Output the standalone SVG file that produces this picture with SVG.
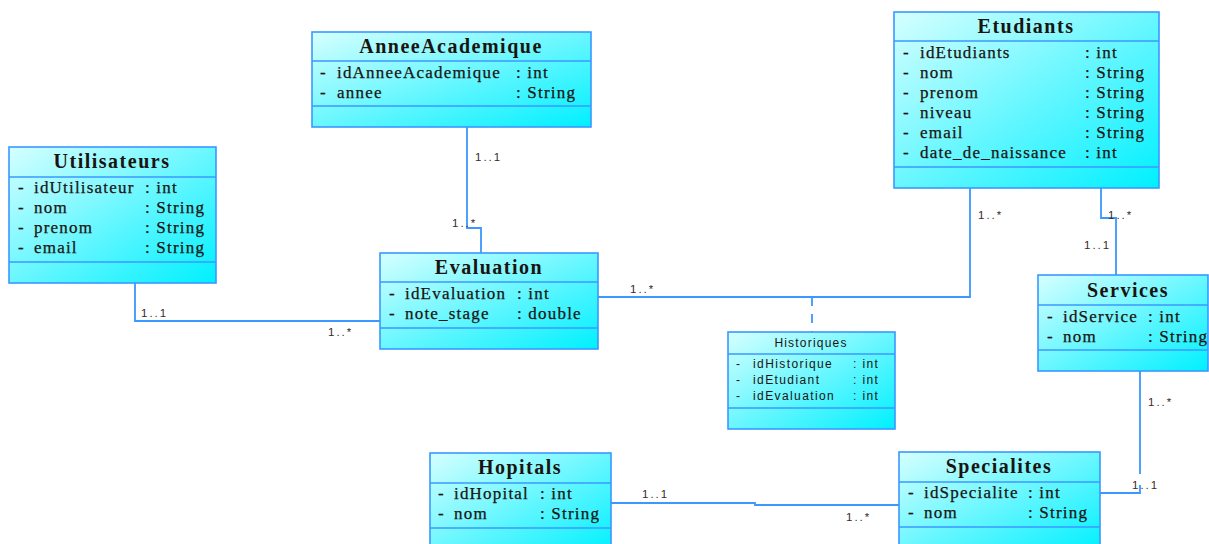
<svg xmlns="http://www.w3.org/2000/svg" width="1209" height="544" viewBox="0 0 1209 544">
  <defs>
    <linearGradient id="boxFill" x1="0" y1="0" x2="1" y2="1">
      <stop offset="0" stop-color="#d6ffff"/>
      <stop offset="0.55" stop-color="#5ff6ff"/>
      <stop offset="1" stop-color="#00f0ff"/>
    </linearGradient>
    <style>
      .box { fill: url(#boxFill); stroke: #3a98ff; stroke-width: 1.6; }
      .sep { stroke: #3a98ff; stroke-width: 1.6; }
      .title { font-family: "Liberation Serif", serif; font-weight: bold; font-size: 20px; letter-spacing: 1.5px; fill: #1a1410; text-anchor: middle; }
      .attr { font-family: "Liberation Serif", serif; font-size: 17px; letter-spacing: 1.2px; fill: #1a1410; stroke: #1a1410; stroke-width: 0.25; }
      .stitle { font-family: "Liberation Sans", Arial, sans-serif; font-size: 12px; letter-spacing: 1.2px; fill: #1a1410; text-anchor: middle; }
      .sattr { font-family: "Liberation Sans", Arial, sans-serif; font-size: 12px; letter-spacing: 1.4px; fill: #1a1410; }
      .conn { fill: none; stroke: #3a98ff; stroke-width: 1.8; }
      .dash { stroke-dasharray: 9 8; }
      .mult { font-family: "Liberation Sans", Arial, sans-serif; font-size: 11.5px; letter-spacing: 2px; fill: #3a2a2a; }
    </style>
  </defs>
  <rect width="1209" height="544" fill="#ffffff"/>

  <!-- associations -->
  <g id="connectors">
    <path class="conn" d="M467,127 V228 H481 V253"/>
    <path class="conn" d="M135,283 V321 H380"/>
    <path class="conn" d="M598,297 H970 V188"/>
    <path class="conn dash" d="M812,297 V332"/>
    <path class="conn" d="M1101,188 V218 H1116 V275"/>
    <path class="conn" d="M1140,371 V474"/>
    <path class="conn" d="M1140,485 V493 H1100"/>
    <path class="conn" d="M611,503 H755 V505 H899"/>
    <text class="mult" x="475" y="161">1..1</text>
    <text class="mult" x="452" y="227">1..*</text>
    <text class="mult" x="141" y="317">1..1</text>
    <text class="mult" x="328" y="336">1..*</text>
    <text class="mult" x="630" y="293">1..*</text>
    <text class="mult" x="978" y="219">1..*</text>
    <text class="mult" x="1108" y="219">1..*</text>
    <text class="mult" x="1084" y="249">1..1</text>
    <text class="mult" x="1148" y="406">1..*</text>
    <text class="mult" x="1132" y="489">1..1</text>
    <text class="mult" x="642" y="498">1..1</text>
    <text class="mult" x="846" y="521">1..*</text>
  </g>

  <g id="AnneeAcademique">
    <rect class="box" x="312" y="32" width="279" height="95"/>
    <line class="sep" x1="312" y1="61" x2="591" y2="61"/>
    <line class="sep" x1="312" y1="106" x2="591" y2="106"/>
    <text class="title" x="451" y="53">AnneeAcademique</text>
    <text class="attr" x="320" y="78">-</text><text class="attr" x="337" y="78">idAnneeAcademique</text><text class="attr" x="516" y="78">: int</text>
    <text class="attr" x="320" y="98">-</text><text class="attr" x="337" y="98">annee</text><text class="attr" x="516" y="98">: String</text>
  </g>

  <g id="Utilisateurs">
    <rect class="box" x="9" y="147" width="207" height="136"/>
    <line class="sep" x1="9" y1="177" x2="216" y2="177"/>
    <line class="sep" x1="9" y1="262" x2="216" y2="262"/>
    <text class="title" x="112" y="168">Utilisateurs</text>
    <text class="attr" x="18" y="193">-</text><text class="attr" x="34" y="193">idUtilisateur</text><text class="attr" x="145" y="193">: int</text>
    <text class="attr" x="18" y="213">-</text><text class="attr" x="34" y="213">nom</text><text class="attr" x="145" y="213">: String</text>
    <text class="attr" x="18" y="233">-</text><text class="attr" x="34" y="233">prenom</text><text class="attr" x="145" y="233">: String</text>
    <text class="attr" x="18" y="253">-</text><text class="attr" x="34" y="253">email</text><text class="attr" x="145" y="253">: String</text>
  </g>

  <g id="Evaluation">
    <rect class="box" x="380" y="253" width="218" height="96"/>
    <line class="sep" x1="380" y1="282" x2="598" y2="282"/>
    <line class="sep" x1="380" y1="328" x2="598" y2="328"/>
    <text class="title" x="489" y="274">Evaluation</text>
    <text class="attr" x="389" y="299">-</text><text class="attr" x="405" y="299">idEvaluation</text><text class="attr" x="517" y="299">: int</text>
    <text class="attr" x="389" y="319">-</text><text class="attr" x="405" y="319">note_stage</text><text class="attr" x="517" y="319">: double</text>
  </g>

  <g id="Historiques">
    <rect class="box" x="728" y="332" width="167" height="97"/>
    <line class="sep" x1="728" y1="354" x2="895" y2="354"/>
    <line class="sep" x1="728" y1="408" x2="895" y2="408"/>
    <text class="stitle" x="811" y="347">Historiques</text>
    <text class="sattr" x="736" y="368">-</text><text class="sattr" x="753" y="368">idHistorique</text><text class="sattr" x="853" y="368">: int</text>
    <text class="sattr" x="736" y="384">-</text><text class="sattr" x="753" y="384">idEtudiant</text><text class="sattr" x="853" y="384">: int</text>
    <text class="sattr" x="736" y="400">-</text><text class="sattr" x="753" y="400">idEvaluation</text><text class="sattr" x="853" y="400">: int</text>
  </g>

  <g id="Etudiants">
    <rect class="box" x="894" y="12" width="265" height="176"/>
    <line class="sep" x1="894" y1="41" x2="1159" y2="41"/>
    <line class="sep" x1="894" y1="167" x2="1159" y2="167"/>
    <text class="title" x="1026" y="33">Etudiants</text>
    <text class="attr" x="903" y="58">-</text><text class="attr" x="920" y="58">idEtudiants</text><text class="attr" x="1085" y="58">: int</text>
    <text class="attr" x="903" y="78">-</text><text class="attr" x="920" y="78">nom</text><text class="attr" x="1085" y="78">: String</text>
    <text class="attr" x="903" y="98">-</text><text class="attr" x="920" y="98">prenom</text><text class="attr" x="1085" y="98">: String</text>
    <text class="attr" x="903" y="118">-</text><text class="attr" x="920" y="118">niveau</text><text class="attr" x="1085" y="118">: String</text>
    <text class="attr" x="903" y="138">-</text><text class="attr" x="920" y="138">email</text><text class="attr" x="1085" y="138">: String</text>
    <text class="attr" x="903" y="158">-</text><text class="attr" x="920" y="158">date_de_naissance</text><text class="attr" x="1085" y="158">: int</text>
  </g>

  <g id="Services">
    <rect class="box" x="1038" y="275" width="170" height="96"/>
    <line class="sep" x1="1038" y1="305" x2="1208" y2="305"/>
    <line class="sep" x1="1038" y1="350" x2="1208" y2="350"/>
    <text class="title" x="1128" y="297">Services</text>
    <text class="attr" x="1047" y="322">-</text><text class="attr" x="1063" y="322">idService</text><text class="attr" x="1148" y="322">: int</text>
    <text class="attr" x="1047" y="342">-</text><text class="attr" x="1063" y="342">nom</text><text class="attr" x="1148" y="342">: String</text>
  </g>

  <g id="Hopitals">
    <rect class="box" x="430" y="453" width="181" height="100"/>
    <line class="sep" x1="430" y1="483" x2="611" y2="483"/>
    <line class="sep" x1="430" y1="528" x2="611" y2="528"/>
    <text class="title" x="520" y="474">Hopitals</text>
    <text class="attr" x="438" y="499">-</text><text class="attr" x="454" y="499">idHopital</text><text class="attr" x="540" y="499">: int</text>
    <text class="attr" x="438" y="519">-</text><text class="attr" x="454" y="519">nom</text><text class="attr" x="540" y="519">: String</text>
  </g>

  <g id="Specialites">
    <rect class="box" x="899" y="452" width="201" height="100"/>
    <line class="sep" x1="899" y1="482" x2="1100" y2="482"/>
    <line class="sep" x1="899" y1="527" x2="1100" y2="527"/>
    <text class="title" x="999" y="473">Specialites</text>
    <text class="attr" x="908" y="498">-</text><text class="attr" x="924" y="498">idSpecialite</text><text class="attr" x="1028" y="498">: int</text>
    <text class="attr" x="908" y="518">-</text><text class="attr" x="924" y="518">nom</text><text class="attr" x="1028" y="518">: String</text>
  </g>
</svg>
